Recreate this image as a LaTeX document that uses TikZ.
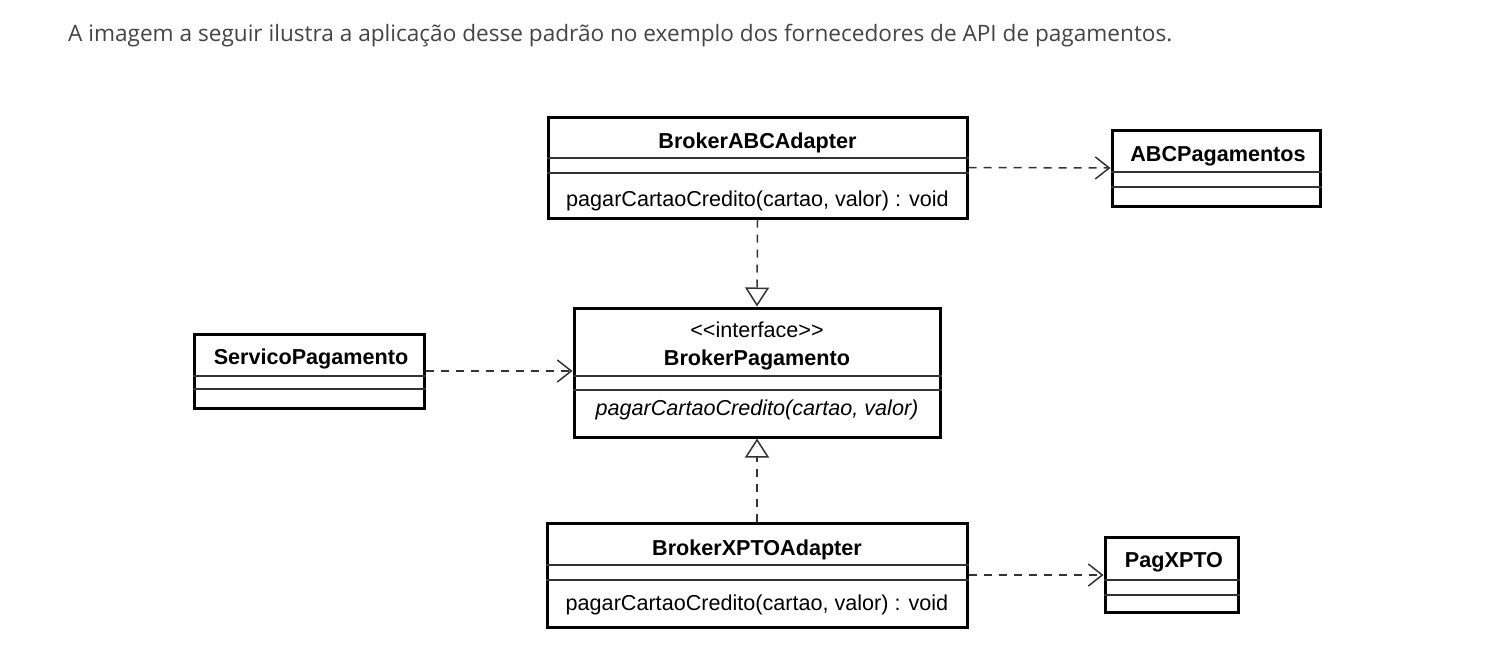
\documentclass[tikz,border=0pt]{standalone}
\usepackage{fontspec}
\setmainfont{Liberation Sans}
\newfontfamily\leadfont{Open Sans}
\usetikzlibrary{arrows.meta}
\definecolor{leadgray}{HTML}{444444}
\definecolor{linegray}{HTML}{333333}

\tikzset{
	classbox/.style={draw, line width=3pt, inner sep=0pt},
	compart/.style={line width=1.5pt, draw=linegray},
	cname/.style={font=\fontsize{21.6}{25}\selectfont\bfseries, inner sep=0pt, anchor=base},
	cop/.style={font=\fontsize{21.6}{25}\selectfont, inner sep=0pt, anchor=base},
	depend/.style={line width=1.5pt, draw=linegray, dash pattern=on 8pt off 7pt,
		-{Straight Barb[length=14pt,width=22pt]}},
	realize/.style={line width=1.5pt, draw=linegray, dash pattern=on 8pt off 7pt,
		-{Triangle[open,length=19pt,width=24pt,fill=white]}},
}

\begin{document}
\begin{tikzpicture}[x=1pt,y=-1pt]
	\useasboundingbox (0,0) rectangle (1496,669);
	\node[anchor=base west, inner sep=0pt, text=leadgray,
		font=\leadfont\fontsize{22.6}{27}\selectfont] (lead) at (68,42)
		{A imagem a seguir ilustra a aplicação desse padrão no exemplo dos fornecedores de API de pagamentos.};

	% class boxes
	\path
		(757.5,167.5) node[classbox, minimum width=419, minimum height=101] (abcadapter) {}
		(1216,168) node[classbox, minimum width=208, minimum height=76] (abcpag) {}
		(309,371) node[classbox, minimum width=230, minimum height=74] (servico) {}
		(757,372.5) node[classbox, minimum width=366, minimum height=129] (brokerpag) {}
		(757,575) node[classbox, minimum width=420, minimum height=104] (xptoadapter) {}
		(1171.5,574.5) node[classbox, minimum width=133, minimum height=75] (pagxpto) {}
		;

	% compartments
	\draw[compart]
		(abcadapter.west |- 0,158) -- (abcadapter.east |- 0,158)
		(abcadapter.west |- 0,173) -- (abcadapter.east |- 0,173)
		(abcpag.west |- 0,172) -- (abcpag.east |- 0,172)
		(abcpag.west |- 0,187) -- (abcpag.east |- 0,187)
		(servico.west |- 0,376) -- (servico.east |- 0,376)
		(servico.west |- 0,389) -- (servico.east |- 0,389)
		(brokerpag.west |- 0,376) -- (brokerpag.east |- 0,376)
		(brokerpag.west |- 0,390) -- (brokerpag.east |- 0,390)
		(xptoadapter.west |- 0,565) -- (xptoadapter.east |- 0,565)
		(xptoadapter.west |- 0,580) -- (xptoadapter.east |- 0,580)
		(pagxpto.west |- 0,580) -- (pagxpto.east |- 0,580)
		(pagxpto.west |- 0,595) -- (pagxpto.east |- 0,595)
	;

	% texts
	\path
		(757.5,148) node[cname] (abcadaptername) {BrokerABCAdapter}
		(757.5,206) node[cop] (abcadapterop) {pagarCartaoCredito(cartao, valor) : void}
		(1218,161) node[cname] (abcpagname) {ABCPagamentos}
		(311,364) node[cname] (serviconame) {ServicoPagamento}
		(757,337) node[cop] (brokerpagstereo) {<\kern0pt<interface>\kern0pt>}
		(757,365) node[cname] (brokerpagname) {BrokerPagamento}
		(757,415) node[cop, font=\fontsize{21.6}{25}\selectfont\itshape] (brokerpagop) {pagarCartaoCredito(cartao, valor)}
		(757,555) node[cname] (xptoadaptername) {BrokerXPTOAdapter}
		(757,610) node[cop] (xptoadapterop) {pagarCartaoCredito(cartao, valor) : void}
		(1174,567) node[cname] (pagxptoname) {PagXPTO}
		;

	% relations
	\draw[depend] (abcadapter.east) -- (abcpag.west);
	\draw[depend] (servico.east) -- (servico.east -| brokerpag.west);
	\draw[depend] (xptoadapter.east) -- (xptoadapter.east -| pagxpto.west);
	\draw[realize] (abcadapter.south) -- (brokerpag.north);
	\draw[realize] (xptoadapter.north) -- (brokerpag.south);
\end{tikzpicture}
\end{document}
